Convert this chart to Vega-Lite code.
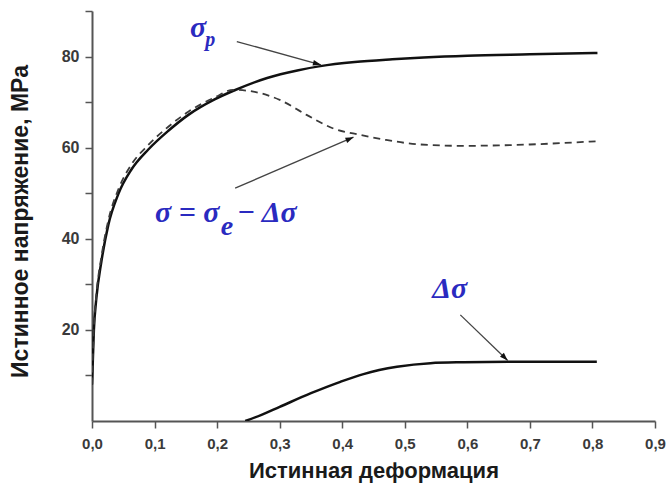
{
  "$schema": "https://vega.github.io/schema/vega-lite/v6.json",
  "width": 563,
  "height": 410,
  "autosize": {"type": "none"},
  "padding": {"left": 92, "top": 11, "right": 13, "bottom": 67},
  "background": "white",
  "config": {
    "view": {"stroke": null},
    "axis": {
      "grid": false,
      "domainColor": "#555555",
      "domainWidth": 2,
      "tickColor": "#555555",
      "tickWidth": 1.5,
      "tickSize": 7,
      "labelFont": "Liberation Sans",
      "labelFontWeight": "bold",
      "labelFontSize": 15,
      "labelColor": "#3a3a3a",
      "labelFlush": false,
      "titleFont": "Liberation Sans",
      "titleFontWeight": "bold",
      "titleFontSize": 22,
      "titleColor": "#1a1a1a"
    }
  },
  "datasets": {
    "curves": [
      {"series": "sp", "x": 0, "y": 8},
      {"series": "sp", "x": 0.003, "y": 20},
      {"series": "sp", "x": 0.007, "y": 27},
      {"series": "sp", "x": 0.015, "y": 35},
      {"series": "sp", "x": 0.026, "y": 43},
      {"series": "sp", "x": 0.042, "y": 49.8},
      {"series": "sp", "x": 0.063, "y": 55.2},
      {"series": "sp", "x": 0.09, "y": 59.6},
      {"series": "sp", "x": 0.122, "y": 63.7},
      {"series": "sp", "x": 0.154, "y": 67.2},
      {"series": "sp", "x": 0.196, "y": 70.6},
      {"series": "sp", "x": 0.228, "y": 72.6},
      {"series": "sp", "x": 0.28, "y": 75.3},
      {"series": "sp", "x": 0.33, "y": 77},
      {"series": "sp", "x": 0.365, "y": 77.9},
      {"series": "sp", "x": 0.42, "y": 78.8},
      {"series": "sp", "x": 0.48, "y": 79.4},
      {"series": "sp", "x": 0.53, "y": 79.8},
      {"series": "sp", "x": 0.6, "y": 80.2},
      {"series": "sp", "x": 0.7, "y": 80.5},
      {"series": "sp", "x": 0.808, "y": 80.8},
      {"series": "s", "x": 0, "y": 8},
      {"series": "s", "x": 0.003, "y": 20.5},
      {"series": "s", "x": 0.007, "y": 27.8},
      {"series": "s", "x": 0.015, "y": 36},
      {"series": "s", "x": 0.026, "y": 44},
      {"series": "s", "x": 0.042, "y": 50.8},
      {"series": "s", "x": 0.063, "y": 56.3},
      {"series": "s", "x": 0.09, "y": 60.6},
      {"series": "s", "x": 0.122, "y": 64.6},
      {"series": "s", "x": 0.154, "y": 67.9},
      {"series": "s", "x": 0.196, "y": 71},
      {"series": "s", "x": 0.226, "y": 72.7},
      {"series": "s", "x": 0.258, "y": 72.3},
      {"series": "s", "x": 0.3, "y": 70.5},
      {"series": "s", "x": 0.343, "y": 67.2},
      {"series": "s", "x": 0.386, "y": 64.2},
      {"series": "s", "x": 0.429, "y": 62.8},
      {"series": "s", "x": 0.47, "y": 61.7},
      {"series": "s", "x": 0.525, "y": 60.7},
      {"series": "s", "x": 0.594, "y": 60.4},
      {"series": "s", "x": 0.65, "y": 60.5},
      {"series": "s", "x": 0.7, "y": 60.7},
      {"series": "s", "x": 0.75, "y": 61},
      {"series": "s", "x": 0.805, "y": 61.4},
      {"series": "ds", "x": 0.245, "y": 0},
      {"series": "ds", "x": 0.27, "y": 1.3},
      {"series": "ds", "x": 0.3, "y": 3.1},
      {"series": "ds", "x": 0.35, "y": 6.1},
      {"series": "ds", "x": 0.397, "y": 8.6},
      {"series": "ds", "x": 0.434, "y": 10.3},
      {"series": "ds", "x": 0.4875, "y": 11.9},
      {"series": "ds", "x": 0.541, "y": 12.7},
      {"series": "ds", "x": 0.594, "y": 12.9},
      {"series": "ds", "x": 0.666, "y": 13},
      {"series": "ds", "x": 0.807, "y": 13}
    ],
    "arrows": [
      {"name": "sp", "x0": 0.2315, "y0": 83.3, "x1": 0.366, "y1": 78.2},
      {"name": "s", "x0": 0.2288, "y0": 51.1, "x1": 0.418, "y1": 62.3},
      {"name": "ds", "x0": 0.5888, "y0": 23.3, "x1": 0.6645, "y1": 13.3}
    ],
    "labels": [
      {"kind": "big", "t": "σ", "x": 0.1568, "y": 84.3},
      {"kind": "sub", "t": "p", "x": 0.181, "y": 82.3},
      {"kind": "big", "t": "σ = σ", "x": 0.1008, "y": 43.7},
      {"kind": "sub2", "t": "e", "x": 0.206, "y": 40.8},
      {"kind": "big", "t": "− Δσ", "x": 0.232, "y": 43.7},
      {"kind": "big", "t": "Δσ", "x": 0.544, "y": 27}
    ]
  },
  "encoding": {
    "x": {
      "type": "quantitative",
      "scale": {"domain": [0, 0.9], "nice": false, "zero": false},
      "axis": {
        "title": "Истинная деформация",
        "values": [0, 0.1, 0.2, 0.3, 0.4, 0.5, 0.6, 0.7, 0.8, 0.9],
        "labelExpr": "replace(format(datum.value, '.1f'), '.', ',')",
        "labelPadding": 8,
        "titleY": 49,
        "titleBaseline": "middle"
      }
    },
    "y": {
      "type": "quantitative",
      "scale": {"domain": [0, 90], "nice": false, "zero": false},
      "axis": {
        "title": "Истинное напряжение, МРа",
        "values": [10, 20, 30, 40, 50, 60, 70, 80, 90],
        "labelExpr": "datum.value % 20 === 0 ? datum.label : ''",
        "labelPadding": 6,
        "labelFontSize": 16,
        "titleFontSize": 23,
        "titleX": -72,
        "titleY": 210,
        "titleBaseline": "middle",
        "titleAlign": "center",
        "titleAngle": -90
      }
    }
  },
  "layer": [
    {
      "data": {"name": "curves"},
      "transform": [{"filter": "datum.series === 'sp'"}],
      "mark": {"type": "line", "color": "#111111", "strokeWidth": 2.5, "interpolate": "monotone", "clip": true},
      "encoding": {"x": {"field": "x"}, "y": {"field": "y"}}
    },
    {
      "data": {"name": "curves"},
      "transform": [{"filter": "datum.series === 's'"}],
      "mark": {"type": "line", "color": "#3a3a3a", "strokeWidth": 1.8, "strokeDash": [7, 5], "interpolate": "monotone", "clip": true},
      "encoding": {"x": {"field": "x"}, "y": {"field": "y"}}
    },
    {
      "data": {"name": "curves"},
      "transform": [{"filter": "datum.series === 'ds'"}],
      "mark": {"type": "line", "color": "#111111", "strokeWidth": 2.5, "interpolate": "monotone", "clip": true},
      "encoding": {"x": {"field": "x"}, "y": {"field": "y"}}
    },
    {
      "data": {"name": "arrows"},
      "mark": {"type": "rule", "color": "#444444", "strokeWidth": 1.3},
      "encoding": {"x": {"field": "x0"}, "y": {"field": "y0"}, "x2": {"field": "x1"}, "y2": {"field": "y1"}}
    },
    {
      "data": {"name": "arrows"},
      "transform": [{"filter": "datum.name === 'sp'"}],
      "mark": {"type": "point", "shape": "M0,0L-2,-0.7L-2,0.7Z", "filled": true, "color": "#111111", "size": 64, "angle": 14.3, "opacity": 1},
      "encoding": {"x": {"field": "x1"}, "y": {"field": "y1"}}
    },
    {
      "data": {"name": "arrows"},
      "transform": [{"filter": "datum.name === 's'"}],
      "mark": {"type": "point", "shape": "M0,0L-2,-0.7L-2,0.7Z", "filled": true, "color": "#111111", "size": 64, "angle": -22.9, "opacity": 1},
      "encoding": {"x": {"field": "x1"}, "y": {"field": "y1"}}
    },
    {
      "data": {"name": "arrows"},
      "transform": [{"filter": "datum.name === 'ds'"}],
      "mark": {"type": "point", "shape": "M0,0L-2,-0.7L-2,0.7Z", "filled": true, "color": "#111111", "size": 64, "angle": 44, "opacity": 1},
      "encoding": {"x": {"field": "x1"}, "y": {"field": "y1"}}
    },
    {
      "data": {"name": "labels"},
      "transform": [{"filter": "datum.kind === 'big'"}],
      "mark": {"type": "text", "font": "Liberation Serif", "fontStyle": "italic", "fontWeight": "bold", "fontSize": 30, "color": "#2a2ac0", "align": "left", "baseline": "alphabetic"},
      "encoding": {"x": {"field": "x"}, "y": {"field": "y"}, "text": {"field": "t"}}
    },
    {
      "data": {"name": "labels"},
      "transform": [{"filter": "datum.kind === 'sub'"}],
      "mark": {"type": "text", "font": "Liberation Serif", "fontStyle": "italic", "fontWeight": "bold", "fontSize": 20, "color": "#2a2ac0", "align": "left", "baseline": "alphabetic"},
      "encoding": {"x": {"field": "x"}, "y": {"field": "y"}, "text": {"field": "t"}}
    },
    {
      "data": {"name": "labels"},
      "transform": [{"filter": "datum.kind === 'sub2'"}],
      "mark": {"type": "text", "font": "Liberation Serif", "fontStyle": "italic", "fontWeight": "bold", "fontSize": 28, "color": "#2a2ac0", "align": "left", "baseline": "alphabetic"},
      "encoding": {"x": {"field": "x"}, "y": {"field": "y"}, "text": {"field": "t"}}
    }
  ]
}
